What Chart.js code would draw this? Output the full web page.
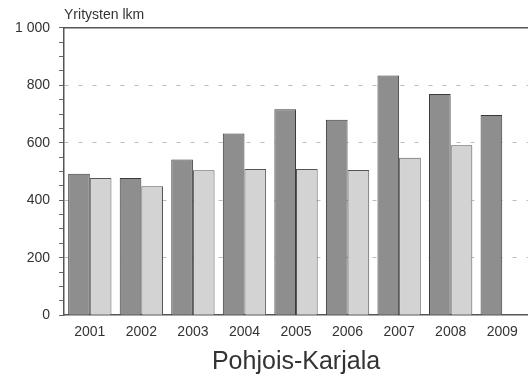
<!DOCTYPE html>
<html>
<head>
<meta charset="utf-8">
<script src="https://cdn.jsdelivr.net/npm/chart.js"></script>
<style>
    html, body { margin: 0; padding: 0; background: #fff; }
    #wrap { width: 528px; height: 376px; }
</style>
</head>
<body>
<div id="wrap"><canvas id="chart" width="528" height="376"></canvas></div>
<script>
// Data
const years = ['2001', '2002', '2003', '2004', '2005', '2006', '2007', '2008', '2009'];
const darkSeries = [492, 477, 542, 632, 717, 680, 834, 770, 697];
const lightSeries = [477, 449, 504, 509, 509, 505, 548, 591, null];
const yMax = 1000;
const labelStep = 200;

/**
 * Format number with a space as thousands separator
 */
function formatTick(value) {
    if (value % labelStep !== 0) return '';
    return String(value).replace(/\B(?=(\d{3})+(?!\d))/g, ' ');
}

const fontFamily = 'Liberation Sans, Arial, sans-serif';

const ctx = document.getElementById('chart').getContext('2d');
new Chart(ctx, {
    type: 'bar',
    data: {
        labels: years,
        datasets: [{
            data: darkSeries,
            backgroundColor: '#8e8e8e',
            borderColor: '#3a3a3a',
            borderWidth: 1,
            categoryPercentage: 0.84,
            barPercentage: 1
        }, {
            data: lightSeries,
            backgroundColor: '#d3d3d3',
            borderColor: '#555',
            borderWidth: 1,
            categoryPercentage: 0.84,
            barPercentage: 1
        }]
    },
    options: {
        responsive: false,
        animation: false,
        // the plot runs a little past the right edge, as in the original
        layout: { padding: { left: 6, right: -6, top: 2, bottom: 0 } },
        plugins: {
            legend: { display: false },
            tooltip: { enabled: false },
            subtitle: {
                display: true,
                text: 'Yritysten lkm',
                position: 'top',
                align: 'start',
                fullSize: false,
                color: '#333',
                font: { family: fontFamily, size: 14 },
                padding: { top: 5, bottom: 4 }
            },
            title: {
                display: true,
                text: 'Pohjois-Karjala',
                position: 'bottom',
                fullSize: false,
                color: '#333',
                font: { family: fontFamily, size: 25, weight: 'normal', lineHeight: 1 },
                padding: { top: 0, bottom: 1 }
            }
        },
        scales: {
            x: {
                grid: { display: false, drawTicks: false },
                border: { display: true, color: '#555', width: 1.5 },
                ticks: {
                    color: '#333',
                    padding: 9,
                    font: { family: fontFamily, size: 14 }
                }
            },
            top: {
                position: 'top',
                type: 'category',
                labels: years,
                grid: { display: false, drawTicks: false },
                border: { display: true, color: '#555', width: 1.5 },
                ticks: { display: false }
            },
            y: {
                min: 0,
                max: yMax,
                ticks: {
                    stepSize: 50,
                    autoSkip: false,
                    color: '#333',
                    padding: 9,
                    font: { family: fontFamily, size: 14 },
                    callback: formatTick
                },
                grid: {
                    drawOnChartArea: true,
                    tickLength: 5,
                    tickColor: '#666',
                    color: c => {
                        const v = c.tick ? c.tick.value : 0;
                        return (v > 0 && v < yMax && v % labelStep === 0) ? '#bdbdbd' : 'rgba(0,0,0,0)';
                    },
                    lineWidth: 1
                },
                border: { display: true, color: '#555', width: 1.5, dash: [4, 10] }
            }
        }
    }
});
</script>
</body>
</html>
